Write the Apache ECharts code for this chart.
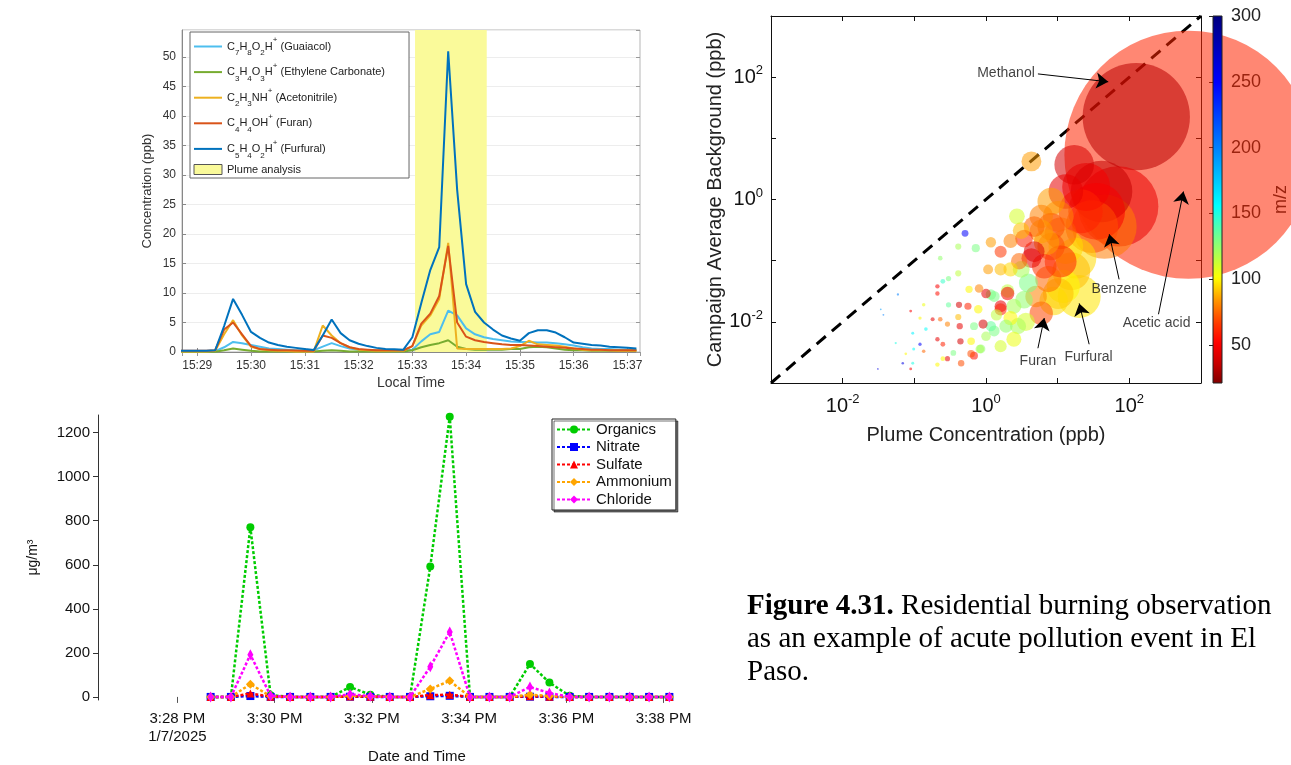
<!DOCTYPE html>
<html><head><meta charset="utf-8">
<script src="https://cdn.jsdelivr.net/npm/echarts@6/dist/echarts.min.js"></script>
<style>html,body{margin:0;padding:0;background:#fff}#c{width:1291px;height:765px}</style>
</head><body><div id="c"></div>
<script>
// ---------- Panel A: PTR-MS time series (ppb) ----------
const vocTimes = ['15:28:40','15:28:50','15:29:00','15:29:10','15:29:20','15:29:30','15:29:40','15:29:50','15:30:00','15:30:10','15:30:20','15:30:30','15:30:40','15:30:50','15:31:00','15:31:10','15:31:20','15:31:30','15:31:40','15:31:50','15:32:00','15:32:10','15:32:20','15:32:30','15:32:40','15:32:50','15:33:00','15:33:10','15:33:20','15:33:30','15:33:40','15:33:50','15:34:00','15:34:10','15:34:20','15:34:30','15:34:40','15:34:50','15:35:00','15:35:10','15:35:20','15:35:30','15:35:40','15:35:50','15:36:00','15:36:10','15:36:20','15:36:30','15:36:40','15:36:50','15:37:00','15:37:10'];
const guaiacol = [0.15,0.15,0.15,0.15,0.15,0.8,1.7,1.5,1.2,0.9,0.6,0.5,0.4,0.3,0.3,0.3,0.9,1.5,1.0,0.6,0.4,0.3,0.3,0.3,0.3,0.3,0.4,1.8,3.0,3.4,7.0,6.2,4.0,3.0,2.5,2.2,2.0,1.8,1.7,1.7,1.6,1.6,1.5,1.3,1.1,0.8,0.6,0.5,0.5,0.4,0.4,0.4];
const ethyleneCarbonate = [0.05,0.05,0.05,0.05,0.05,0.3,0.6,0.4,0.2,0.1,0.1,0.1,0.1,0.1,0.1,0.1,0.2,0.3,0.2,0.1,0.1,0.1,0.1,0.1,0.1,0.1,0.3,0.8,1.2,1.5,2.0,0.9,0.5,0.4,0.4,0.4,0.4,0.5,0.5,0.8,0.9,0.8,0.6,0.4,0.3,0.3,0.2,0.2,0.2,0.2,0.2,0.2];
const acetonitrile = [0.1,0.1,0.1,0.1,0.2,3.0,5.4,2.8,0.9,0.45,0.3,0.2,0.15,0.1,0.1,0.1,4.5,2.8,1.5,0.8,0.4,0.3,0.2,0.2,0.2,0.2,1.0,4.5,6.2,9.0,18.5,0.6,0.5,0.5,0.5,0.5,0.5,0.6,1.0,1.9,1.3,1.2,1.1,0.9,0.6,0.4,0.3,0.3,0.3,0.2,0.2,0.2];
const furan = [0.2,0.2,0.2,0.2,0.3,3.8,5.0,3.0,1.0,0.5,0.4,0.3,0.3,0.25,0.2,0.2,2.8,2.4,1.5,0.8,0.5,0.4,0.3,0.3,0.3,0.3,1.0,4.8,6.5,9.5,18.0,5.0,2.6,2.0,1.7,1.5,1.3,1.2,1.2,1.1,1.0,0.9,0.8,0.7,0.6,0.5,0.4,0.4,0.3,0.3,0.3,0.3];
const furfural = [0.2,0.2,0.2,0.2,0.3,4.4,9.0,6.3,3.4,2.4,1.6,1.2,0.9,0.7,0.5,0.35,2.8,5.5,3.2,2.0,1.4,1.0,0.7,0.5,0.45,0.4,2.5,8.3,13.9,17.8,51.0,27.5,11.5,6.8,5.0,3.8,2.8,2.3,1.9,3.2,3.7,3.7,3.3,2.5,1.6,1.4,1.2,1.1,0.9,0.8,0.7,0.6];
const vocNames = ['C7H8O2H+ (Guaiacol)','C3H4O3H+ (Ethylene Carbonate)','C2H3NH+ (Acetonitrile)','C4H4OH+ (Furan)','C5H4O2H+ (Furfural)'];
const vocLegendRich = [
  '{n|C}{sb|7}{n|H}{sb|8}{n|O}{sb|2}{n|H}{sp|+}{n| (Guaiacol)}',
  '{n|C}{sb|3}{n|H}{sb|4}{n|O}{sb|3}{n|H}{sp|+}{n| (Ethylene Carbonate)}',
  '{n|C}{sb|2}{n|H}{sb|3}{n|NH}{sp|+}{n| (Acetonitrile)}',
  '{n|C}{sb|4}{n|H}{sb|4}{n|OH}{sp|+}{n| (Furan)}',
  '{n|C}{sb|5}{n|H}{sb|4}{n|O}{sb|2}{n|H}{sp|+}{n| (Furfural)}'
];
const plumeWindow = ['15:33:03','15:34:23'];
const vocYTicks = [0,5,10,15,20,25,30,35,40,45,50];

// ---------- Panel B: aerosol composition (ug/m3) ----------
const amsTimes = ['15:28:41','15:29:06','15:29:30','15:29:55','15:30:19','15:30:44','15:31:09','15:31:33','15:31:58','15:32:22','15:32:47','15:33:12','15:33:36','15:34:01','15:34:25','15:34:50','15:35:15','15:35:39','15:36:04','15:36:28','15:36:53','15:37:18','15:37:42','15:38:07'];
const organics = [0,0,770,8,0,0,0,45,10,0,0,592,1272,0,0,0,150,65,5,0,0,0,0,0];
const nitrate  = [0,0,4,0,0,0,0,1,0,0,0,3,5,0,0,0,1,0,0,0,0,0,0,0];
const sulfate  = [0,0,16,1,0,0,0,2,1,0,0,8,10,0,0,0,3,1,0,0,0,0,0,0];
const ammonium = [0,0,58,3,0,0,0,5,2,0,0,36,73,0,0,0,10,4,0,0,0,0,0,0];
const chloride = [0,0,192,5,0,0,0,12,3,0,0,137,295,0,0,0,45,18,0,0,0,0,0,0];
const amsYTicks = [0,200,400,600,800,1000,1200];
const amsXTicks = ['15:28:00','15:30:00','15:32:00','15:34:00','15:36:00','15:38:00'];
const amsXRange = ['15:26:22','15:38:30'];

// ---------- Panel C: plume vs campaign background (bubble size ~ plume conc., colour = m/z) ----------
const plumeConc = [668,125,70,17,25,45,18,20,5.9,4.3,10.2,4.7,11,4.7,3.4,2.7,2.2,0.51,0.72,0.23,1.07,1.6,0.41,0.30,0.25,0.58,0.8,1.0,0.21,0.21,0.059,1.17,2.0,0.42,0.56,0.30,0.78,1.6,0.089,0.135,0.23,0.18,0.12,0.41,0.68,0.91,1.3,0.145,0.095,0.29,0.43,0.21,0.44,0.25,0.12,0.135,0.098,0.076,0.35,0.25,0.29,0.62,0.68,0.82,0.45,0.21,0.095,0.069,0.089,0.031,0.034,0.037,2.2,3.1,6.5,7.4,10.2,3.9,3.4,2.0,2.45,1.6,1.3,2.8,2.45,2.2,1.17,0.85,5.9,8.1,13,41,35,8.1,4.3,11,3.1,0.41,0.055,
  13,15.5,12,8.8,5,3.6,1.9,2.9,1.6,1.17,7,5.9,8.1,1.4,1.0,1.6,0.62,21,30];
const bgConc = [5.4,22.6,0.77,3.7,1.6,0.36,0.11,0.026,0.0138,4.2,0.53,0.36,0.28,0.14,0.23,0.53,0.21,0.28,0.16,0.11,0.072,0.072,0.062,0.051,0.046,0.034,0.035,0.029,0.038,0.029,0.028,0.028,0.032,0.019,0.018,0.019,0.016,0.018,0.015,0.019,0.011,0.011,0.0115,0.012,0.0085,0.0092,0.0071,0.0076,0.0065,0.0092,0.0085,0.0052,0.0048,0.0043,0.0043,0.0033,0.0036,0.003,0.0031,0.0025,0.0025,0.003,0.0028,0.0036,0.0021,0.002,0.0021,0.0021,0.0017,0.0017,0.016,0.013,0.072,0.072,0.081,0.05,0.029,0.043,0.023,0.029,0.018,0.016,0.026,0.0085,0.0052,0.0115,0.0085,0.0036,0.53,0.93,1.35,1.35,0.64,0.17,0.11,0.097,0.31,0.17,0.0045,
  0.17,0.067,0.038,0.022,0.026,0.01,0.0085,0.098,0.14,0.2,0.2,0.3,0.36,0.013,0.0058,0.004,0.0048,0.64,0.36];
const mzValues = [61,33,45,40,50,79,95,97,69,85,80,75,72,42,60,110,80,250,130,125,85,90,115,130,145,100,80,45,50,55,200,130,115,40,60,135,100,45,50,105,75,45,100,90,130,40,130,155,160,80,45,45,40,60,250,75,155,100,130,100,45,70,55,120,70,100,150,260,50,260,190,200,95,120,65,75,90,130,125,50,120,60,130,120,105,100,135,125,80,85,45,35,50,70,45,60,90,120,150,
  95,90,100,95,80,110,125,75,65,85,85,85,70,115,120,110,100,60,70];
const annoNames = ['Methanol','Benzene','Acetic acid','Furan','Furfural'];
const annoTextX = [1.9,72,240,5.3,27];
const annoTextY = [118,0.034,0.0095,0.0023,0.0026];
const arrowTailX = [5.3,72,255,5.3,27.5];
const arrowTailY = [113,0.0495,0.0133,0.0037,0.0043];
const arrowHeadX = [50.8,52.5,569,6.5,20];
const arrowHeadY = [84,0.27,1.35,0.0115,0.02];
const mzRange = [21,300];
const mzTicks = [50,100,150,200,250,300];

// ---------- styling ----------
const FONT = 'Liberation Sans';
const DAY = '2025-01-07 ';
const jetStops = [[21,[128,0,0]],[36,[200,0,0]],[52,[255,0,0]],[67,[255,60,0]],[84,[255,150,0]],[101,[255,255,0]],[129,[128,255,128]],[156,[0,255,255]],[200,[0,128,255]],[249,[0,0,255]],[300,[0,0,127]]];
function mzColor(mz){
  if (mz <= jetStops[0][0]) return 'rgb('+jetStops[0][1].join(',')+')';
  for (let i=1;i<jetStops.length;i++){
    if (mz <= jetStops[i][0]){
      const a=jetStops[i-1], b=jetStops[i], f=(mz-a[0])/(b[0]-a[0]);
      const c=a[1].map((v,k)=>Math.round(v+(b[1][k]-v)*f));
      return 'rgb('+c.join(',')+')';
    }
  }
  return 'rgb('+jetStops[jetStops.length-1][1].join(',')+')';
}
const pad = n => (n<10?'0':'')+n;
const toMin = s => { const p = s.split(':').map(Number); return (p[0]-15)*60 + p[1] + p[2]/60; };

const vocColors = ['#4DBEEE','#77AC30','#EDB120','#D95319','#0072BD'];
const vocSeriesData = [guaiacol, ethyleneCarbonate, acetonitrile, furan, furfural];
const amsNames = ['Organics','Nitrate','Sulfate','Ammonium','Chloride'];
const amsData = [organics, nitrate, sulfate, ammonium, chloride];
const amsColors = ['#00cc00','#0000ff','#ff0000','#ffa500','#ff00ff'];
const amsSymbols = ['circle','rect','triangle','diamond','diamond'];
const amsSymbolSizes = [8,8,8,9,[6,11]];

const series = [];
series.push({
  name:'Plume analysis', type:'line', xAxisIndex:0, yAxisIndex:0, data:[], z:1, silent:true,
  itemStyle:{color:'#fafa9a'},
  markArea:{silent:true, itemStyle:{color:'#fafa9a'}, data:[[{xAxis:DAY+plumeWindow[0]},{xAxis:DAY+plumeWindow[1]}]]}
});
vocNames.forEach((nm,i)=>{
  series.push({
    name:nm, type:'line', xAxisIndex:0, yAxisIndex:0, symbol:'none', showSymbol:false, z:3,
    lineStyle:{width:2, color:vocColors[i]}, itemStyle:{color:vocColors[i]},
    data: vocTimes.map((t,k)=>[DAY+t, vocSeriesData[i][k]])
  });
});
amsNames.forEach((nm,i)=>{
  series.push({
    name:nm, type:'line', xAxisIndex:1, yAxisIndex:1, symbol:amsSymbols[i], symbolSize:amsSymbolSizes[i], z:3+i*0.1,
    lineStyle:{width:2.5, type:[3,2], color:amsColors[i]}, itemStyle:{color:amsColors[i]},
    data: amsTimes.map((t,k)=>[toMin(t), amsData[i][k]])
  });
});
series.push({
  type:'line', xAxisIndex:2, yAxisIndex:2, symbol:'none', silent:true, z:2,
  lineStyle:{color:'#000', width:3, type:[12,8]},
  data:[[0.001,0.001],[1000,1000]]
});
const bubbles = plumeConc.map((x,i)=>[x,bgConc[i],mzValues[i]]).sort((a,b)=>b[0]-a[0]);
series.push({
  type:'scatter', xAxisIndex:2, yAxisIndex:2, clip:false, z:3, silent:true,
  symbolSize: v => Math.max(1.2, 9.6*Math.sqrt(v[0])),
  itemStyle:{opacity:0.55, color: p => mzColor(p.value[2])},
  data: bubbles
});
series.push({
  type:'scatter', xAxisIndex:2, yAxisIndex:2, clip:false, z:6, silent:true, symbolSize:0,
  label:{show:true, position:'inside', formatter:p=>p.value[2], fontFamily:FONT, fontSize:14, color:'#111'},
  data: annoNames.map((n,i)=>[annoTextX[i],annoTextY[i],n]),
  markLine:{
    silent:true, symbol:['none','arrow'], symbolSize:12, label:{show:false},
    lineStyle:{color:'#000', width:1, type:'solid'},
    itemStyle:{color:'#000'},
    data: annoNames.map((n,i)=>[{coord:[arrowTailX[i],arrowTailY[i]]},{coord:[arrowHeadX[i],arrowHeadY[i]]}])
  }
});
series.push({
  type:'custom', xAxisIndex:4, yAxisIndex:4, silent:true, z:6,
  data:[[0, mzRange[0], mzRange[1]]],
  renderItem:(params, api)=>{
    const p1 = api.coord([0, mzRange[1]]);
    const p2 = api.coord([1, mzRange[0]]);
    const stops = [];
    for (let m=mzRange[0]; m<=mzRange[1]; m+=3){
      stops.push({offset:(mzRange[1]-m)/(mzRange[1]-mzRange[0]), color:mzColor(m)});
    }
    stops.push({offset:0, color:mzColor(mzRange[1])});
    stops.sort((a,b)=>a.offset-b.offset);
    return {type:'rect', shape:{x:p1[0], y:p1[1], width:p2[0]-p1[0], height:p2[1]-p1[1]},
      style:{fill:new echarts.graphic.LinearGradient(0,0,0,1,stops), stroke:'#222', lineWidth:1}};
  }
});

function logLabel(v){
  const e = Math.round(Math.log10(v));
  if (e % 2 !== 0) return '';
  return '{b|10}{s|' + e + '}';
}
const logRich = {b:{fontSize:20, lineHeight:26, fontFamily:FONT, color:'#111'}, s:{fontSize:13, lineHeight:13, verticalAlign:'top', fontFamily:FONT, color:'#111'}};
const amsXTickValues = amsXTicks.map(toMin);
const timeFmt = v=>{const d=new Date(v); return d.getSeconds()===0 ? pad(d.getHours())+':'+pad(d.getMinutes()) : '';};

const option = {
  animation:false,
  textStyle:{fontFamily:FONT},
  grid:[
    {left:182, top:30, width:458, height:322, show:true, borderColor:'#b5b5b5', borderWidth:1, backgroundColor:'transparent'},
    {left:98, top:415, width:590, height:285},
    {left:771, top:16, width:430, height:367},
    {left:1213, top:16, width:24, height:367}
  ],
  legend:[
    {
      orient:'vertical', left:190, top:32, padding:[4,24,3,3], itemGap:4.6, itemWidth:28, itemHeight:10,
      backgroundColor:'#fff', borderColor:'#666', borderWidth:1, selectedMode:false,
      itemStyle:{opacity:0},
      data: vocNames.map(n=>({name:n})).concat([{name:'Plume analysis', icon:'rect', itemStyle:{opacity:1, color:'#fafa9a', borderColor:'#555', borderWidth:1}}]),
      formatter: name => { const i = vocNames.indexOf(name); return i>=0 ? vocLegendRich[i] : '{p|Plume analysis}'; },
      textStyle:{fontFamily:FONT, fontSize:11, color:'#222', rich:{
        n:{fontSize:11, lineHeight:21, fontFamily:FONT, color:'#222'},
        sb:{fontSize:8, lineHeight:13, verticalAlign:'bottom', fontFamily:FONT, color:'#222'},
        sp:{fontSize:8, lineHeight:13, verticalAlign:'top', fontFamily:FONT, color:'#222'},
        p:{fontSize:11, lineHeight:13, fontFamily:FONT, color:'#222'}
      }}
    },
    {
      orient:'vertical', left:552, top:419, padding:[3,4,3,4], itemGap:2.5, itemWidth:34, itemHeight:10,
      backgroundColor:'#fff', borderColor:'#222', borderWidth:1, selectedMode:false,
      shadowColor:'rgba(0,0,0,0.55)', shadowOffsetX:2, shadowOffsetY:2, shadowBlur:0,
      data: amsNames,
      textStyle:{fontFamily:FONT, fontSize:15, color:'#111'}
    }
  ],
  xAxis:[
    {type:'time', gridIndex:0, min:DAY+'15:28:43', max:DAY+'15:37:14', minInterval:60000, maxInterval:60000,
     axisLine:{show:true, lineStyle:{color:'#888'}}, axisTick:{show:true, inside:true, length:4, lineStyle:{color:'#888'}},
     splitLine:{show:false},
     axisLabel:{fontSize:12, color:'#333', margin:8, showMinLabel:false, showMaxLabel:false, formatter:timeFmt},
     name:'Local Time', nameLocation:'middle', nameGap:24, nameTextStyle:{fontSize:14, color:'#333'}},
    {type:'value', gridIndex:1, min:toMin(amsXRange[0]), max:toMin(amsXRange[1]),
     axisLine:{show:false}, axisTick:{show:true, length:6, customValues:amsXTickValues, lineStyle:{color:'#555'}}, splitLine:{show:false},
     axisLabel:{fontSize:15, color:'#111', margin:10, lineHeight:18, customValues:amsXTickValues,
       formatter:v=>{const m=Math.round(v); const s='3:'+pad(m)+' PM'; return m===28 ? s+'\n1/7/2025' : s;}},
     name:'Date and Time', nameLocation:'middle', nameGap:49, nameTextStyle:{fontSize:15, color:'#111', padding:[0,0,0,48]}},
    {type:'log', logBase:10, gridIndex:2, min:0.001, max:1000, position:'bottom',
     axisLine:{show:true, onZero:false, lineStyle:{color:'#111'}}, axisTick:{show:true, inside:true, length:5, lineStyle:{color:'#111'}},
     splitLine:{show:false}, minorTick:{show:false},
     axisLabel:{formatter:logLabel, rich:logRich, margin:10},
     name:'Plume Concentration (ppb)', nameLocation:'middle', nameGap:42, nameTextStyle:{fontSize:20, color:'#222'}},
    {type:'log', logBase:10, gridIndex:2, min:0.001, max:1000, position:'top',
     axisLine:{show:true, onZero:false, lineStyle:{color:'#111'}}, axisTick:{show:true, inside:true, length:5, lineStyle:{color:'#111'}},
     splitLine:{show:false}, axisLabel:{show:false}},
    {type:'value', gridIndex:3, min:0, max:1, show:false},
    {type:'time', gridIndex:0, position:'top', min:DAY+'15:28:43', max:DAY+'15:37:14', minInterval:60000, maxInterval:60000,
     axisLine:{show:false}, axisTick:{show:true, inside:true, length:4, lineStyle:{color:'#999'}},
     splitLine:{show:false}, axisLabel:{show:false}}
  ],
  yAxis:[
    {type:'value', gridIndex:0, min:0, max:54.6, interval:5,
     axisLine:{show:true, lineStyle:{color:'#888'}}, axisTick:{show:true, inside:true, length:4, lineStyle:{color:'#888'}},
     splitLine:{show:true, lineStyle:{color:'#ededed'}},
     axisLabel:{fontSize:12, color:'#333', margin:6, showMaxLabel:false, formatter:v=> vocYTicks.indexOf(v)>=0 ? String(v) : ''},
     name:'Concentration (ppb)', nameLocation:'middle', nameGap:28, nameTextStyle:{fontSize:13, color:'#333'}},
    {type:'value', gridIndex:1, min:-14, max:1280,
     axisLine:{show:true, lineStyle:{color:'#333'}}, axisTick:{show:true, length:5, customValues:amsYTicks, lineStyle:{color:'#333'}},
     splitLine:{show:false},
     axisLabel:{fontSize:15, color:'#111', margin:8, customValues:amsYTicks, formatter:v=>String(v)},
     name:'μg/m³', nameLocation:'middle', nameGap:58, nameTextStyle:{fontSize:14, color:'#111'}},
    {type:'log', logBase:10, gridIndex:2, min:0.001, max:1000, position:'left',
     axisLine:{show:true, onZero:false, lineStyle:{color:'#111'}}, axisTick:{show:true, inside:true, length:5, lineStyle:{color:'#111'}},
     splitLine:{show:false},
     axisLabel:{formatter:logLabel, rich:logRich, margin:8},
     name:'Campaign Average Background (ppb)', nameLocation:'middle', nameGap:43, nameTextStyle:{fontSize:20, color:'#222'}},
    {type:'log', logBase:10, gridIndex:2, min:0.001, max:1000, position:'right',
     axisLine:{show:true, onZero:false, lineStyle:{color:'#111'}}, axisTick:{show:true, inside:true, length:5, lineStyle:{color:'#111'}},
     splitLine:{show:false}, axisLabel:{show:false}},
    {type:'value', gridIndex:3, min:mzRange[0], max:mzRange[1], position:'right',
     axisLine:{show:false}, axisTick:{show:true, inside:true, length:4, customValues:mzTicks, lineStyle:{color:'#222'}},
     splitLine:{show:false},
     axisLabel:{fontSize:18, color:'#222', margin:9, customValues:mzTicks},
     name:'m/z', nameLocation:'middle', nameGap:50, nameRotate:90, nameTextStyle:{fontSize:18, color:'#222'}},
    {type:'value', gridIndex:0, position:'right', min:0, max:54.6, interval:5,
     axisLine:{show:false}, axisTick:{show:true, inside:true, length:4, lineStyle:{color:'#999'}},
     splitLine:{show:false}, axisLabel:{show:false}}
  ],
  graphic:[{
    type:'text', left:747, top:590, z:10,
    style:{
      text:'{b|Figure 4.31.} Residential burning observation\nas an example of acute pollution event in El\nPaso.',
      fontFamily:'Liberation Serif', fontSize:29, lineHeight:33, fill:'#000',
      rich:{b:{fontFamily:'Liberation Serif', fontSize:29, lineHeight:33, fontWeight:'bold', fill:'#000'}}
    }
  }],
  series: series
};
const chart = echarts.init(document.getElementById('c'), null, {renderer:'canvas', width:1291, height:765});
chart.setOption(option);
</script></body></html>
